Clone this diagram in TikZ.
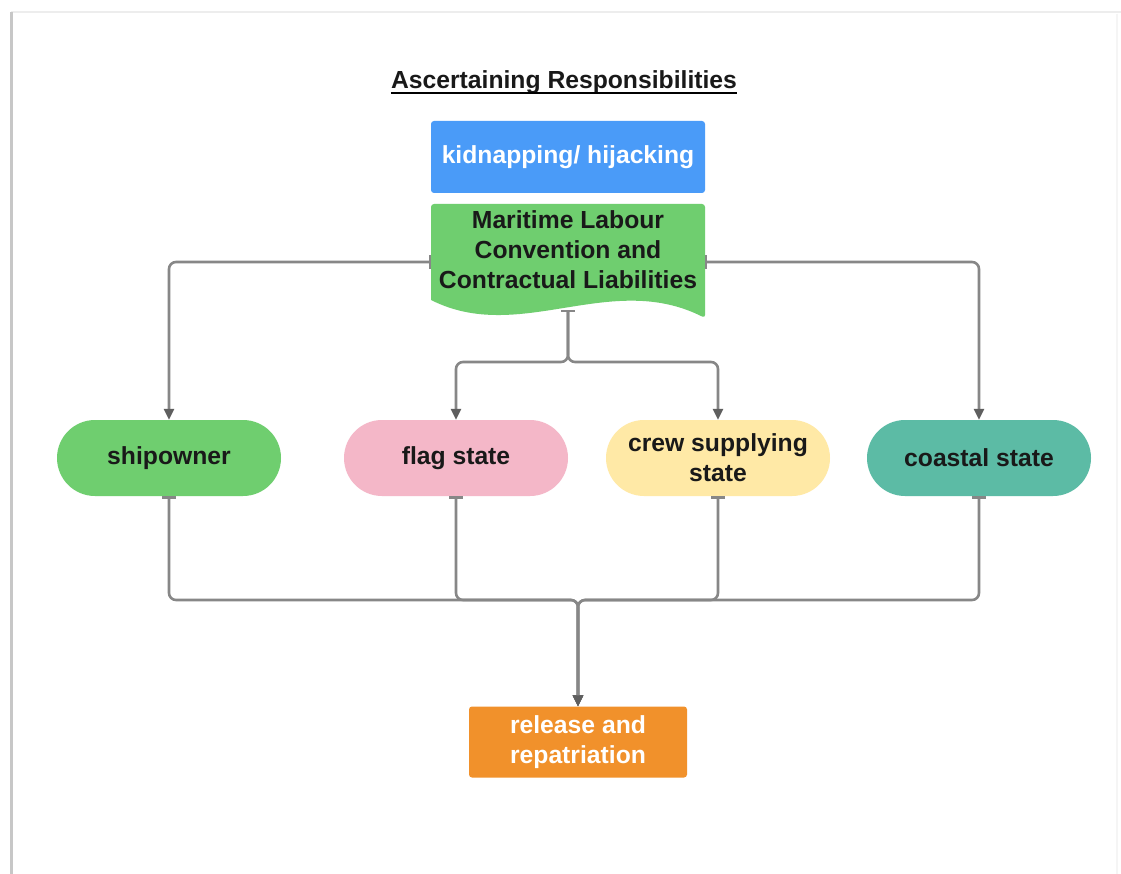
\documentclass[tikz,border=0pt]{standalone}
\usepackage{fontspec}
\setmainfont{Liberation Sans}
\usetikzlibrary{arrows.meta,positioning}
\definecolor{kidblue}{RGB}{74,155,248}
\definecolor{mlgreen}{RGB}{111,206,111}
\definecolor{flagpink}{RGB}{244,183,200}
\definecolor{crewyellow}{RGB}{255,233,166}
\definecolor{coastteal}{RGB}{92,187,165}
\definecolor{relorange}{RGB}{241,145,43}
\definecolor{linegray}{RGB}{135,135,135}
\definecolor{tipgray}{RGB}{95,95,95}

\begin{document}
\begin{tikzpicture}[x=1pt, y=-1pt, every node/.style={font=\fontsize{24.7}{30}\selectfont\bfseries, text=black!90}]
\tikzset{pill/.style={rounded corners=38pt, minimum width=224pt, minimum height=76pt, inner sep=0pt, align=center}}
\tikzset{box/.style={rounded corners=3pt, inner sep=0pt, align=center}}
\tikzset{conn/.style={draw=linegray, line width=2.6pt, rounded corners=7pt, {Bar[width=14pt,line width=2.4pt]}-{Triangle[length=11pt,width=10pt,color=tipgray]}}}
\useasboundingbox (0,0) rectangle (1121,874);
% page frame
\fill[white] (0,0) rectangle (1121,874);
\draw[black!7, line width=1.5pt] (11,12) -- (1121,12);
\draw[black!4, line width=1.5pt] (1117,14) -- (1117,874);
\draw[black!22, line width=3pt] (11,12) -- (11,874);
% title
\node[inner sep=0pt, anchor=base] (title) at (564,89) {Ascertaining Responsibilities};
\draw[line width=1.8pt] ([yshift=-4pt]title.base west) -- ([yshift=-4pt]title.base east);
% top boxes
\node[box, fill=kidblue, text=white, minimum width=274pt, minimum height=72pt] (kid) at (568,157) {kidnapping/ hijacking};
\fill[mlgreen, rounded corners=3pt] (431,300) -- (431,204) -- (705,204) -- (705,318) [sharp corners] .. controls (610,270) and (520,345) .. (431,300) -- cycle;
\node[box, minimum width=274pt, minimum height=96pt] (mlc) at (568,250) {Maritime Labour\\Convention and\\Contractual Liabilities};
\coordinate (mlcL) at (431,262);
\coordinate (mlcR) at (705,262);
\coordinate (mlcB) at (568,310);
\coordinate (split) at (568,362);
% parties
\node[pill, fill=mlgreen] (ship) at (169,458) {shipowner};
\node[pill, fill=flagpink] (flag) at (456,458) {flag state};
\node[pill, fill=crewyellow] (crew) at (718,458) {crew supplying\\state};
\node[pill, fill=coastteal] (coast) at (979,458) {coastal state};
% outcome
\node[box, fill=relorange, text=white, minimum width=218pt, minimum height=71pt] (rel) at (578,742) {release and\\repatriation};
\coordinate (merge) at (578,600);
% connectors
\draw[conn] (mlcL) -| (ship.north);
\draw[conn] (mlcR) -| (coast.north);
\draw[conn] (mlcB) -- (split) -| (flag.north);
\draw[conn] (mlcB) -- (split) -| (crew.north);
\foreach \n in {ship,flag,crew,coast}
  \draw[conn] (\n.south) |- (merge) -- (rel.north);
\end{tikzpicture}
\end{document}
